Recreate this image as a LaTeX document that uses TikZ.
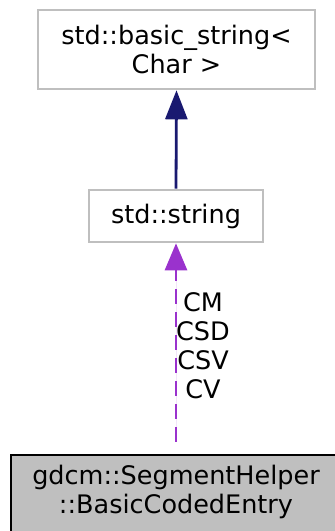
\documentclass[tikz,border=0pt]{standalone}
\usepackage{fontspec}
\setmainfont{DejaVu Sans}
\usetikzlibrary{arrows.meta}
\definecolor{edgeblue}{HTML}{191970}
\definecolor{edgepurple}{HTML}{9A32CD}
\definecolor{boxgrey}{HTML}{BFBFBF}
\tikzset{
  classbox/.style={draw=boxgrey, line width=2.6pt, fill=white, rectangle, inner sep=0pt, align=center,
    font=\fontsize{25.5}{28.5}\selectfont},
  mainbox/.style={classbox, draw=black, fill=boxgrey},
  inherit/.style={draw=edgeblue, line width=2.8pt, -{Triangle[length=29pt,width=22pt]}, fill=edgeblue},
  usage/.style={draw=edgepurple, line width=2.8pt, dash pattern=on 15pt off 8pt, -{Triangle[length=27pt,width=22pt]}, fill=edgepurple},
  elabel/.style={align=center, inner sep=0pt, font=\fontsize{25.5}{29}\selectfont}
}
\begin{document}
\begin{tikzpicture}[x=1pt,y=-1pt]
\useasboundingbox (0,0) rectangle (335,531);
\clip (0,0) rectangle (335,531);
\node[classbox, minimum width=277pt, minimum height=79pt] (b1) at (176.5,49.5) {std::basic\_string<\\Char >};
\node[classbox, minimum width=174pt, minimum height=52pt] (b2) at (176,216) {std::string};
\node[mainbox, minimum width=330pt, minimum height=80pt] (b3) at (176,495) {};
\node[align=center, inner sep=0pt, font=\fontsize{25.5}{28.5}\selectfont] (t3) at (176,492) {gdcm::SegmentHelper\\::BasicCodedEntry};
\draw[inherit] (b2.north) -- (b1.south);
\draw[usage, shorten <=12pt] (b3.north) -- (b2.south);
\node[elabel] (lab) at (203,346) {CM\\CSD\\CSV\\CV};
\end{tikzpicture}
\end{document}
